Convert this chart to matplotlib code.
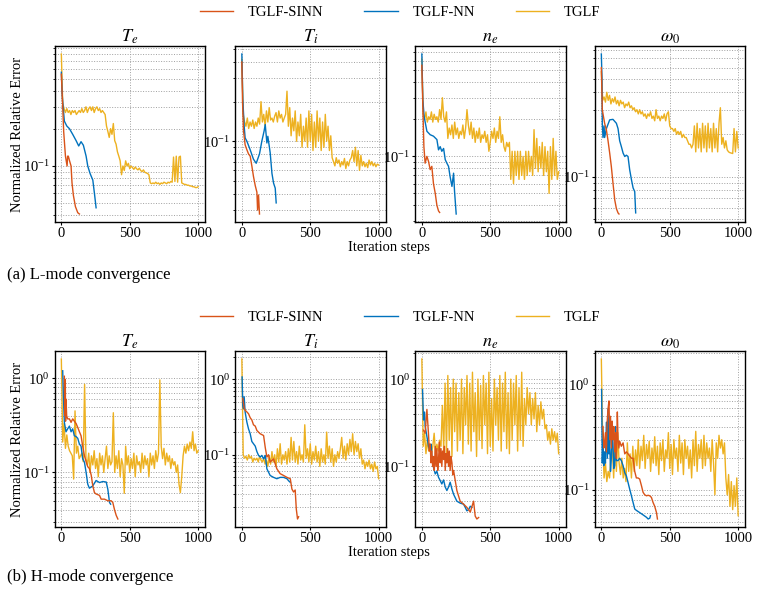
import numpy as np
import matplotlib
matplotlib.use("Agg")
import matplotlib.pyplot as plt
from matplotlib.lines import Line2D

plt.rcParams["font.family"] = "serif"
plt.rcParams["font.serif"] = ["Liberation Serif", "DejaVu Serif"]
plt.rcParams["mathtext.fontset"] = "stix"

SINN_COLOR = "#D95319"
NN_COLOR = "#0072BD"
TGLF_COLOR = "#EDB120"

series_names = ["TGLF-SINN", "TGLF-NN", "TGLF"]
titles = [r"$T_e$", r"$T_i$", r"$n_e$", r"$\omega_0$"]
tglf_steps = np.arange(0, 1001, 10)

# ---------------- L-mode ----------------
l_te_tglf = [
    0.80, 0.32, 0.29, 0.27, 0.29, 0.27, 0.28, 0.26, 0.28, 0.27,
    0.28, 0.26, 0.27, 0.28, 0.27, 0.29, 0.27, 0.28, 0.30, 0.27,
    0.29, 0.30, 0.28, 0.30, 0.27, 0.29, 0.30, 0.28, 0.29, 0.27,
    0.28, 0.27, 0.26, 0.21, 0.19, 0.17, 0.20, 0.18, 0.22, 0.16,
    0.15, 0.13, 0.12, 0.11, 0.085, 0.10, 0.092, 0.11, 0.10, 0.105,
    0.095, 0.10, 0.097, 0.094, 0.098, 0.095, 0.093, 0.096, 0.092, 0.090,
    0.093, 0.089, 0.088, 0.087, 0.085, 0.073, 0.072, 0.073, 0.072, 0.074,
    0.072, 0.073, 0.071, 0.073, 0.072, 0.074, 0.073, 0.072, 0.074, 0.073,
    0.075, 0.074, 0.118, 0.075, 0.12, 0.074, 0.118, 0.12, 0.073, 0.072,
    0.071, 0.071, 0.070, 0.070, 0.069, 0.069, 0.068, 0.068, 0.067, 0.067,
    0.068,
]
l_te_nn_steps = [0, 5, 10, 22, 40, 59, 83, 108, 127, 144, 161, 181, 193, 210, 230, 242, 254]
l_te_nn = [0.57, 0.40, 0.33, 0.23, 0.21, 0.20, 0.18, 0.16, 0.145, 0.157, 0.147, 0.12,
           0.10, 0.087, 0.077, 0.06, 0.046]
l_te_sinn_steps = [0, 10, 17, 30, 42, 46, 51, 60, 71, 78, 88, 103, 120, 132]
l_te_sinn = [0.55, 0.30, 0.19, 0.12, 0.10, 0.12, 0.12, 0.11, 0.10, 0.073, 0.058, 0.047,
             0.042, 0.041]

l_ti_tglf = [
    0.42, 0.16, 0.14, 0.13, 0.15, 0.125, 0.14, 0.13, 0.145, 0.125,
    0.14, 0.13, 0.15, 0.135, 0.20, 0.14, 0.16, 0.13, 0.17, 0.14,
    0.18, 0.145, 0.15, 0.14, 0.155, 0.165, 0.14, 0.17, 0.15, 0.16,
    0.14, 0.15, 0.16, 0.24, 0.13, 0.18, 0.11, 0.15, 0.12, 0.17,
    0.10, 0.14, 0.11, 0.16, 0.09, 0.13, 0.10, 0.15, 0.09, 0.17,
    0.10, 0.16, 0.085, 0.14, 0.09, 0.17, 0.10, 0.15, 0.085, 0.14,
    0.09, 0.16, 0.10, 0.13, 0.085, 0.11, 0.075, 0.07, 0.065, 0.075,
    0.068, 0.072, 0.064, 0.07, 0.066, 0.074, 0.062, 0.07, 0.065, 0.072,
    0.075, 0.085, 0.07, 0.09, 0.065, 0.085, 0.06, 0.078, 0.065, 0.07,
    0.064, 0.068, 0.063, 0.072, 0.066, 0.07, 0.065, 0.068, 0.064, 0.067,
    0.066,
]
l_ti_nn_steps = [0, 7, 17, 24, 37, 61, 85, 105, 129, 146, 163, 171, 183, 190, 207, 220,
                 232, 244, 251]
l_ti_nn = [0.46, 0.21, 0.13, 0.106, 0.10, 0.086, 0.073, 0.068, 0.08, 0.10, 0.12, 0.134,
           0.097, 0.109, 0.082, 0.057, 0.048, 0.044, 0.034]
l_ti_sinn_steps = [0, 5, 12, 24, 37, 49, 61, 73, 85, 98, 110, 115, 122, 129]
l_ti_sinn = [0.40, 0.20, 0.12, 0.094, 0.086, 0.08, 0.077, 0.065, 0.054, 0.046, 0.041,
             0.03, 0.039, 0.028]

l_ne_tglf = [
    0.62, 0.22, 0.20, 0.23, 0.19, 0.21, 0.20, 0.23, 0.19, 0.22,
    0.20, 0.21, 0.19, 0.24, 0.20, 0.30, 0.21, 0.19, 0.23, 0.14,
    0.17, 0.15, 0.18, 0.14, 0.19, 0.15, 0.17, 0.14, 0.16, 0.15,
    0.18, 0.14, 0.17, 0.24, 0.18, 0.15, 0.19, 0.14, 0.17, 0.13,
    0.16, 0.14, 0.17, 0.13, 0.15, 0.14, 0.16, 0.13, 0.15, 0.11,
    0.13, 0.16, 0.14, 0.17, 0.13, 0.16, 0.14, 0.21, 0.13, 0.15,
    0.12, 0.11, 0.13, 0.12, 0.13, 0.065, 0.11, 0.06, 0.11, 0.07,
    0.11, 0.065, 0.11, 0.07, 0.10, 0.065, 0.11, 0.07, 0.11, 0.075,
    0.10, 0.07, 0.165, 0.08, 0.14, 0.075, 0.12, 0.08, 0.13, 0.07,
    0.12, 0.075, 0.11, 0.05, 0.12, 0.065, 0.14, 0.07, 0.11, 0.065,
    0.075,
]
l_ne_nn_steps = [0, 7, 17, 37, 61, 85, 110, 122, 134, 146, 159, 171, 183, 195, 207, 220,
                 232, 239, 251]
l_ne_nn = [0.68, 0.29, 0.21, 0.16, 0.15, 0.146, 0.137, 0.113, 0.12, 0.11, 0.116, 0.094,
           0.088, 0.083, 0.068, 0.057, 0.073, 0.052, 0.034]
l_ne_sinn_steps = [0, 7, 15, 24, 37, 49, 61, 73, 85, 98, 110, 122, 130]
l_ne_sinn = [0.55, 0.26, 0.12, 0.088, 0.10, 0.091, 0.078, 0.083, 0.06, 0.05, 0.04,
             0.036, 0.035]

l_w0_tglf = [
    0.56, 0.35, 0.37, 0.34, 0.40, 0.35, 0.38, 0.33, 0.36, 0.34,
    0.37, 0.33, 0.35, 0.32, 0.35, 0.33, 0.34, 0.31, 0.33, 0.32,
    0.34, 0.31, 0.32, 0.30, 0.31, 0.29, 0.30, 0.28, 0.30, 0.28,
    0.29, 0.27, 0.28, 0.26, 0.28, 0.27, 0.29, 0.26, 0.27, 0.25,
    0.30, 0.26, 0.27, 0.25, 0.27, 0.26, 0.28, 0.25, 0.28, 0.29,
    0.23, 0.22, 0.22, 0.21, 0.22, 0.20, 0.21, 0.20, 0.21, 0.19,
    0.20, 0.19, 0.19, 0.18, 0.17, 0.17, 0.16, 0.17, 0.23, 0.15,
    0.24, 0.16, 0.22, 0.15, 0.24, 0.16, 0.23, 0.15, 0.24, 0.16,
    0.22, 0.15, 0.24, 0.16, 0.22, 0.15, 0.24, 0.31, 0.17, 0.19,
    0.16, 0.18, 0.155, 0.15, 0.148, 0.147, 0.146, 0.22, 0.15, 0.21,
    0.16,
]
l_w0_nn_steps = [0, 5, 7, 12, 20, 24, 37, 61, 85, 110, 122, 134, 146, 159, 171, 183, 195,
                 207, 220, 232, 244, 251]
l_w0_nn = [0.75, 0.49, 0.24, 0.19, 0.23, 0.19, 0.22, 0.254, 0.256, 0.24, 0.22, 0.18,
           0.164, 0.147, 0.139, 0.142, 0.139, 0.112, 0.095, 0.083, 0.078, 0.055]
l_w0_sinn_steps = [0, 7, 24, 37, 49, 61, 73, 85, 98, 110, 122, 129]
l_w0_sinn = [0.60, 0.30, 0.24, 0.215, 0.18, 0.147, 0.118, 0.09, 0.068, 0.059, 0.055, 0.054]

# ---------------- H-mode ----------------
h_te_tglf = [
    1.6, 0.21, 0.33, 0.18, 0.25, 0.19, 0.17, 0.16, 0.15, 0.085,
    0.45, 0.16, 0.19, 0.14, 0.15, 0.16, 0.13, 0.86, 0.14, 0.12,
    0.16, 0.10, 0.15, 0.12, 0.17, 0.11, 0.14, 0.09, 0.16, 0.12,
    0.15, 0.10, 0.14, 0.19, 0.11, 0.15, 0.12, 0.13, 0.43, 0.10,
    0.15, 0.11, 0.17, 0.09, 0.14, 0.12, 0.06, 0.19, 0.12, 0.15,
    0.10, 0.14, 0.11, 0.16, 0.09, 0.15, 0.12, 0.13, 0.10, 0.16,
    0.11, 0.15, 0.12, 0.14, 0.09, 0.16, 0.12, 0.15, 0.11, 0.17,
    0.13, 0.16, 0.96, 0.19, 0.14, 0.18, 0.12, 0.16, 0.13, 0.15,
    0.11, 0.14, 0.12, 0.13, 0.10, 0.12, 0.075, 0.061, 0.09, 0.15,
    0.19, 0.16, 0.20, 0.17, 0.21, 0.18, 0.27, 0.17, 0.20, 0.16,
    0.17,
]
h_te_nn_steps = [10, 15, 22, 34, 46, 59, 71, 83, 95, 108, 120, 132, 144, 156, 169, 181,
                 193, 205, 218, 230, 254, 279, 303, 328, 340, 352, 360]
h_te_nn = [1.2, 0.65, 0.34, 0.27, 0.29, 0.31, 0.27, 0.29, 0.245, 0.24, 0.23, 0.20, 0.19,
           0.14, 0.128, 0.10, 0.075, 0.068, 0.07, 0.072, 0.082, 0.078, 0.08, 0.079, 0.066,
           0.048, 0.046]
h_te_sinn_steps = [22, 25, 29, 31, 34, 39, 46, 59, 71, 83, 95, 108, 120, 132, 144, 156,
                   169, 181, 193, 205, 218, 230, 242, 254, 279, 291, 315, 340, 364, 376,
                   389, 401, 413]
h_te_sinn = [1.05, 0.40, 0.97, 0.35, 0.60, 0.40, 0.37, 0.37, 0.34, 0.37, 0.35, 0.33,
             0.30, 0.27, 0.245, 0.19, 0.15, 0.13, 0.115, 0.11, 0.094, 0.072, 0.061,
             0.059, 0.057, 0.052, 0.052, 0.05, 0.05, 0.048, 0.04, 0.035, 0.032]

h_ti_tglf = [
    1.87, 0.10, 0.09, 0.095, 0.085, 0.10, 0.09, 0.095, 0.08, 0.09,
    0.085, 0.09, 0.08, 0.095, 0.085, 0.08, 0.09, 0.075, 0.085, 0.07,
    0.095, 0.075, 0.11, 0.08, 0.10, 0.07, 0.12, 0.08, 0.14, 0.075,
    0.10, 0.085, 0.11, 0.075, 0.12, 0.08, 0.17, 0.085, 0.15, 0.08,
    0.11, 0.075, 0.13, 0.085, 0.10, 0.08, 0.25, 0.09, 0.12, 0.08,
    0.14, 0.075, 0.11, 0.085, 0.13, 0.08, 0.11, 0.07, 0.12, 0.08,
    0.10, 0.075, 0.20, 0.09, 0.13, 0.08, 0.12, 0.07, 0.10, 0.08,
    0.11, 0.09, 0.12, 0.17, 0.09, 0.13, 0.085, 0.14, 0.10, 0.16,
    0.11, 0.19, 0.10, 0.15, 0.11, 0.14, 0.09, 0.12, 0.075, 0.085,
    0.065, 0.08, 0.07, 0.085, 0.065, 0.075, 0.06, 0.08, 0.065, 0.07,
    0.048,
]
h_ti_nn_steps = [2, 7, 12, 17, 24, 37, 49, 61, 73, 85, 98, 110, 122, 134, 146, 159, 171,
                 183, 207, 232, 256, 280, 305, 330, 342, 354]
h_ti_nn = [1.08, 0.45, 0.41, 0.59, 0.37, 0.27, 0.22, 0.19, 0.15, 0.14, 0.13, 0.11, 0.098,
           0.093, 0.098, 0.088, 0.098, 0.065, 0.053, 0.05, 0.048, 0.05, 0.05, 0.048,
           0.045, 0.043]
h_ti_sinn_steps = [7, 17, 24, 37, 49, 61, 73, 85, 98, 110, 134, 159, 171, 183, 195, 207,
                   232, 256, 280, 305, 330, 354, 366, 378, 390, 398, 407, 415]
h_ti_sinn = [0.56, 0.42, 0.39, 0.37, 0.35, 0.31, 0.29, 0.25, 0.24, 0.21, 0.19, 0.18,
             0.125, 0.093, 0.10, 0.08, 0.088, 0.065, 0.056, 0.053, 0.05, 0.048, 0.035,
             0.032, 0.034, 0.019, 0.014, 0.015]

h_ne_tglf = [
    1.7, 0.17, 0.24, 0.14, 0.20, 0.15, 0.18, 0.14, 0.17, 0.24,
    0.14, 0.18, 0.15, 0.20, 0.17, 0.50, 0.15, 0.90, 0.14, 1.10,
    0.20, 0.80, 0.13, 1.00, 0.25, 0.90, 0.15, 0.70, 0.20, 1.00,
    0.14, 0.80, 0.30, 1.10, 0.18, 0.90, 0.15, 1.20, 0.25, 0.70,
    0.13, 1.00, 0.20, 0.85, 0.16, 1.10, 0.30, 0.90, 0.14, 1.20,
    0.17, 0.60, 0.15, 1.00, 0.30, 0.80, 0.20, 1.10, 0.15, 0.90,
    0.25, 1.20, 0.16, 0.70, 0.14, 1.00, 0.20, 0.90, 0.30, 1.10,
    0.15, 0.80, 0.20, 1.20, 0.17, 0.60, 0.30, 0.80, 0.40, 0.70,
    0.30, 0.60, 0.35, 0.70, 0.25, 0.50, 0.30, 0.55, 0.35, 0.45,
    0.27, 0.30, 0.20, 0.25, 0.18, 0.27, 0.20, 0.25, 0.19, 0.24,
    0.14,
]
h_ne_nn_steps = [5, 12, 20, 24, 37, 49, 61, 68, 73, 85, 98, 110, 122, 134, 146, 159, 171,
                 183, 195, 207, 220, 232, 256, 280, 305, 317, 329, 342, 354, 366]
h_ne_nn = [0.76, 0.34, 0.42, 0.29, 0.22, 0.17, 0.15, 0.18, 0.13, 0.098, 0.082, 0.088,
           0.075, 0.069, 0.063, 0.07, 0.058, 0.053, 0.058, 0.066, 0.055, 0.048, 0.04,
           0.038, 0.037, 0.034, 0.031, 0.032, 0.035, 0.034]
h_ne_sinn_steps = [12, 24, 37, 49, 55, 61, 67, 73, 79, 85, 91, 98, 104, 110, 116, 122,
                   128, 134, 140, 146, 152, 159, 165, 171, 177, 183, 189, 195, 201, 207,
                   213, 220, 226, 232, 244, 256, 280, 305, 329, 354, 378, 390, 402, 415]
h_ne_sinn = [0.26, 0.24, 0.45, 0.23, 0.15, 0.18, 0.11, 0.15, 0.10, 0.13, 0.09, 0.17,
             0.10, 0.16, 0.09, 0.12, 0.19, 0.11, 0.16, 0.10, 0.15, 0.12, 0.17, 0.09,
             0.14, 0.11, 0.16, 0.10, 0.15, 0.09, 0.13, 0.11, 0.08, 0.09, 0.069, 0.053,
             0.04, 0.037, 0.034, 0.03, 0.04, 0.027, 0.025, 0.026]

h_w0_tglf = [
    1.75, 0.28, 0.13, 0.18, 0.12, 0.15, 0.13, 0.20, 0.26, 0.13,
    0.30, 0.15, 0.35, 0.18, 0.14, 0.20, 0.13, 0.16, 0.12, 0.28,
    0.15, 0.22, 0.13, 0.26, 0.15, 0.24, 0.17, 0.30, 0.16, 0.26,
    0.19, 0.33, 0.16, 0.27, 0.20, 0.29, 0.15, 0.25, 0.18, 0.32,
    0.17, 0.26, 0.14, 0.28, 0.19, 0.30, 0.15, 0.24, 0.20, 0.35,
    0.16, 0.27, 0.14, 0.30, 0.20, 0.25, 0.15, 0.33, 0.18, 0.28,
    0.14, 0.30, 0.20, 0.26, 0.16, 0.24, 0.13, 0.30, 0.17, 0.36,
    0.15, 0.27, 0.20, 0.30, 0.16, 0.33, 0.17, 0.28, 0.20, 0.25,
    0.15, 0.30, 0.18, 0.09, 0.28, 0.20, 0.33, 0.25, 0.30, 0.22,
    0.28, 0.13, 0.09, 0.14, 0.07, 0.12, 0.065, 0.11, 0.07, 0.13,
    0.057,
]
h_w0_nn_steps = [2, 7, 12, 18, 24, 30, 37, 44, 49, 55, 61, 67, 73, 79, 85, 91, 98, 104,
                 110, 122, 134, 146, 159, 171, 183, 195, 207, 220, 232, 244, 256, 280,
                 305, 330, 342, 354, 359]
h_w0_nn = [0.90, 0.18, 0.30, 0.17, 0.23, 0.18, 0.44, 0.20, 0.59, 0.22, 0.30, 0.15, 0.20,
           0.35, 0.28, 0.16, 0.17, 0.40, 0.19, 0.19, 0.20, 0.19, 0.17, 0.146, 0.136,
           0.118, 0.102, 0.088, 0.076, 0.066, 0.064, 0.061, 0.058, 0.055, 0.053, 0.054,
           0.057]
h_w0_sinn_steps = [12, 18, 24, 30, 37, 43, 49, 56, 61, 67, 73, 79, 85, 91, 98, 104, 110,
                   117, 122, 128, 134, 146, 159, 171, 183, 195, 207, 220, 232, 244, 256,
                   268, 280, 293, 305, 317, 330, 342, 354, 366, 378, 390, 403, 410]
h_w0_sinn = [0.40, 0.25, 0.27, 0.35, 0.23, 0.45, 0.59, 0.70, 0.30, 0.50, 0.25, 0.45,
             0.30, 0.40, 0.23, 0.35, 0.20, 0.55, 0.30, 0.25, 0.29, 0.26, 0.28, 0.22,
             0.23, 0.22, 0.21, 0.20, 0.20, 0.15, 0.13, 0.13, 0.127, 0.11, 0.095, 0.09,
             0.088, 0.089, 0.088, 0.085, 0.076, 0.07, 0.061, 0.053]

l_mode = [
    (l_te_sinn_steps, l_te_sinn, l_te_nn_steps, l_te_nn, l_te_tglf),
    (l_ti_sinn_steps, l_ti_sinn, l_ti_nn_steps, l_ti_nn, l_ti_tglf),
    (l_ne_sinn_steps, l_ne_sinn, l_ne_nn_steps, l_ne_nn, l_ne_tglf),
    (l_w0_sinn_steps, l_w0_sinn, l_w0_nn_steps, l_w0_nn, l_w0_tglf),
]
h_mode = [
    (h_te_sinn_steps, h_te_sinn, h_te_nn_steps, h_te_nn, h_te_tglf),
    (h_ti_sinn_steps, h_ti_sinn, h_ti_nn_steps, h_ti_nn, h_ti_tglf),
    (h_ne_sinn_steps, h_ne_sinn, h_ne_nn_steps, h_ne_nn, h_ne_tglf),
    (h_w0_sinn_steps, h_w0_sinn, h_w0_nn_steps, h_w0_nn, h_w0_tglf),
]

W, H = 757, 594
fig = plt.figure(figsize=(W / 100, H / 100), dpi=100)
lefts = [54.5, 235, 415, 594.5]
ax_w, ax_h = 150.5, 176


def draw_row(panels, top, legend_y, xlabel_top, caption_y, caption):
    for i, (s_x, s_y, n_x, n_y, t_y) in enumerate(panels):
        ax = fig.add_axes([lefts[i] / W, 1 - (top + ax_h) / H, ax_w / W, ax_h / H])
        ax.plot(tglf_steps, t_y, color=TGLF_COLOR, lw=1.0)
        ax.plot(n_x, n_y, color=NN_COLOR, lw=1.0)
        ax.plot(s_x, s_y, color=SINN_COLOR, lw=1.0)
        ax.set_yscale("log")
        ax.set_xticks([0, 500, 1000])
        ax.grid(True, which="both", ls=":", lw=0.7, color="#a0a0a0")
        ax.tick_params(which="major", labelsize=10.5, length=2.5, pad=0.8)
        ax.tick_params(which="minor", length=1.6)
        for sp in ax.spines.values():
            sp.set_linewidth(1.0)
        ax.set_title(titles[i], fontsize=13, pad=2)
    fig.text(18 / W, 1 - (top + ax_h / 2) / H, "Normalized Relative Error",
             rotation=90, ha="center", va="center", fontsize=10.5)
    fig.text(389 / W, 1 - xlabel_top / H, "Iteration steps",
             ha="center", va="top", fontsize=10.5)
    fig.text(7 / W, 1 - caption_y / H, caption, ha="left", va="center", fontsize=12)
    handles = [Line2D([], [], color=c, lw=1.0) for c in (SINN_COLOR, NN_COLOR, TGLF_COLOR)]
    fig.legend(handles, series_names, loc="center", bbox_to_anchor=(400 / W, 1 - legend_y / H),
               ncol=3, frameon=False, fontsize=10.5, handlelength=2.3,
               handletextpad=1.0, columnspacing=2.8)


draw_row(l_mode, 46, 12.5, 241, 275, "(a) L-mode convergence")
draw_row(h_mode, 351, 317, 546, 577, "(b) H-mode convergence")

fig.savefig("out.png", dpi=100)
